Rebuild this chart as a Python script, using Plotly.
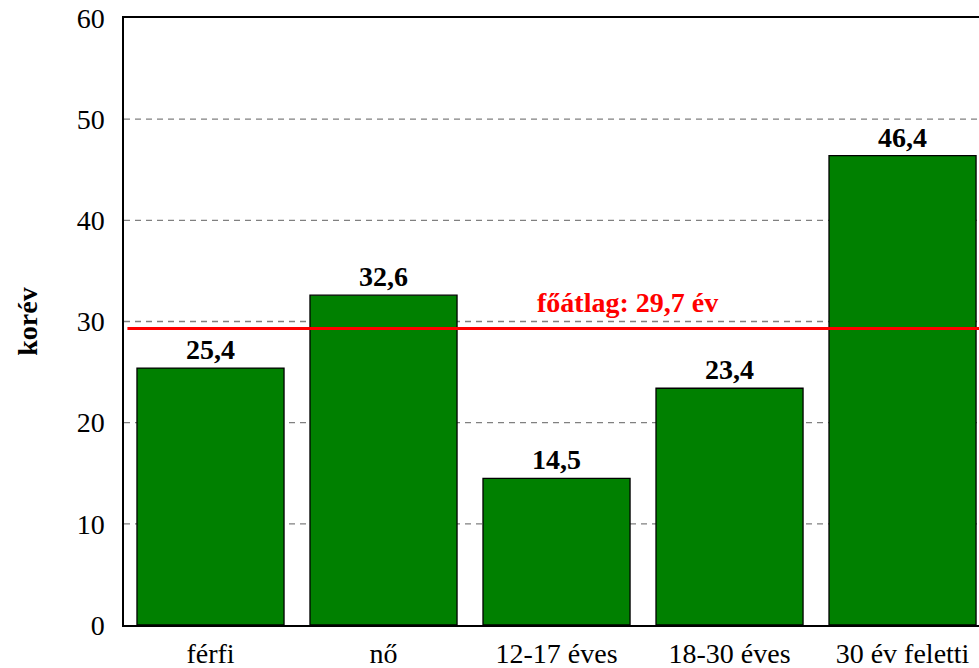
import plotly.graph_objects as go

categories = ["férfi", "nő", "12-17 éves", "18-30 éves", "30 év feletti"]
values = [25.4, 32.6, 14.5, 23.4, 46.4]
value_labels = ["25,4", "32,6", "14,5", "23,4", "46,4"]
average_line = 29.3
average_label = "főátlag: 29,7 év"
y_ticks = [0, 10, 20, 30, 40, 50, 60]

FONT = "Liberation Serif, Times New Roman, serif"
SIZE = 28

fig = go.Figure(
    go.Bar(
        x=list(range(len(categories))),
        y=values,
        text=value_labels,
        textposition="outside",
        textfont=dict(family=FONT, size=SIZE, color="black", weight="bold"),
        cliponaxis=False,
        marker=dict(color="#008000", line=dict(color="black", width=1.3)),
        width=0.85,
        hoverinfo="skip",
    )
)

# 10..50 dashed grid lines
for t in y_ticks[1:-1]:
    fig.add_shape(
        type="line", xref="paper", x0=0, x1=1, yref="y", y0=t, y1=t,
        line=dict(color="#808080", width=1.3, dash="6px,5px"), layer="below",
    )

fig.add_shape(
    type="line", xref="paper", x0=0.004, x1=1, yref="y", y0=average_line, y1=average_line,
    line=dict(color="#ff0000", width=3), layer="above",
)
fig.add_annotation(
    x=2.41, y=average_line, xref="x", yref="y", text=f"<b>{average_label}</b>",
    showarrow=False, yanchor="bottom", yshift=9,
    font=dict(family=FONT, size=SIZE, color="#ff0000"),
)

fig.update_layout(
    width=979,
    height=668,
    margin=dict(l=124, r=0, t=18, b=43),
    paper_bgcolor="white",
    plot_bgcolor="white",
    showlegend=False,
    font=dict(family=FONT, size=SIZE, color="black"),
    xaxis=dict(
        range=[-0.5, 4.442],
        tickvals=list(range(len(categories))),
        ticktext=categories,
        showline=True, linecolor="black", linewidth=1.5, mirror=True,
        showgrid=False, zeroline=False, ticks="",
        ticklabelstandoff=3,
        automargin=False,
        tickfont=dict(family=FONT, size=SIZE),
    ),
    yaxis=dict(
        range=[0, 60],
        tickvals=y_ticks,
        showline=True, linecolor="black", linewidth=1.5,
        showgrid=False, zeroline=False, ticks="",
        ticklabelstandoff=12,
        automargin=False,
        tickfont=dict(family=FONT, size=SIZE),
        title=dict(text="<b>korév</b>", font=dict(family=FONT, size=SIZE), standoff=31),
    ),
)

fig.write_html(
    "out.html",
    config={"displayModeBar": False},
    post_script="document.body.style.margin='0';document.body.style.overflow='hidden';",
)
